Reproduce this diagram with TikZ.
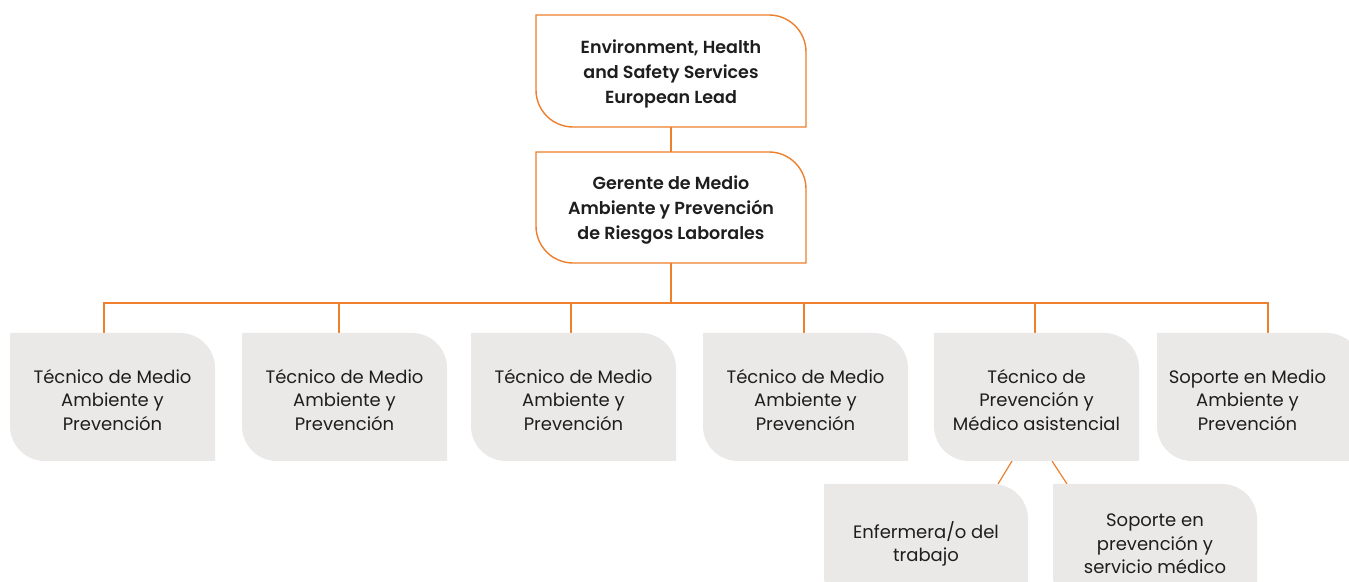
\documentclass[tikz,border=0pt]{standalone}
\usepackage{fontspec}
\setmainfont{Poppins}[BoldFont={Poppins SemiBold}]
\usetikzlibrary{calc}
\definecolor{org}{HTML}{EE7F2D}
\definecolor{gbox}{HTML}{EAE9E7}
\definecolor{txt}{HTML}{1E1E1E}
\tikzset{
  frame/.style={rectangle, draw=none, inner sep=0pt, outer sep=0pt},
  topframe/.style={frame, minimum width=270pt, minimum height=112pt},
  grayframe/.style={frame, minimum width=205pt, minimum height=128pt},
  topshape/.style={draw=org, line width=1.4pt, fill=white},
  grayshape/.style={fill=gbox, draw=none},
  toptext/.style={align=center, text=txt, yshift=-2.5pt, font=\fontsize{17.5}{25}\selectfont\bfseries},
  graytext/.style={align=center, text=txt, yshift=-3pt, font=\fontsize{18}{23.5}\selectfont},
  conn/.style={draw=org, line width=1.4pt},
}
\newcommand\orgshape[3]{%
  \path[#3] (#1.north west) -- ([xshift=-#2]#1.north east)
    arc[start angle=90,end angle=0,radius=#2] -- (#1.south east)
    -- ([xshift=#2]#1.south west)
    arc[start angle=270,end angle=180,radius=#2] -- cycle;}
\begin{document}
\begin{tikzpicture}[x=1pt,y=1pt]
\useasboundingbox (0,0) rectangle (1349,581);
\clip (0,0) rectangle (1349,581);
% frames
\node[topframe] (top) at (671,510) {};
\node[topframe, minimum height=111pt] (ger) at (671,373.5) {};
\node[grayframe] (b1) at (112.5,184) {};
\node[grayframe] (b2) at (344.5,184) {};
\node[grayframe] (b3) at (573.5,184) {};
\node[grayframe] (b4) at (805.5,184) {};
\node[grayframe] (b5) at (1036.5,184) {};
\node[grayframe] (b6) at (1259.5,184) {};
\node[grayframe, minimum width=204pt] (b7) at (926,33) {};
\node[grayframe, minimum width=204pt] (b8) at (1155,33) {};
\coordinate (bus) at (671,278);
% connectors
\draw[conn] (top.south) -- (ger.north);
\draw[conn] (ger.south) -- (bus);
\draw[conn] (bus) -| ([xshift=-8.5pt]b1.north);
\draw[conn] (bus) -| ([xshift=-5.5pt]b2.north);
\draw[conn] (bus) -| ([xshift=-2.5pt]b3.north);
\draw[conn] (bus) -| ([xshift=-1.5pt]b4.north);
\draw[conn] (bus) -| ([xshift=-1.5pt]b5.north);
\draw[conn] (bus) -| ([xshift=8.5pt]b6.north);
\draw[conn, line width=1.2pt] ([xshift=-24.5pt]b5.south) -- ([xshift=72pt]b7.north);
\draw[conn, line width=1.2pt] ([xshift=15.5pt]b5.south) -- ([xshift=-88pt]b8.north);
% shapes
\orgshape{top}{37pt}{topshape}
\orgshape{ger}{37pt}{topshape}
\foreach \b in {b1,b2,b3,b4,b5,b6,b7,b8}{\orgshape{\b}{35pt}{grayshape}}
% texts
\node[toptext] (topt) at (top) {Environment, Health\\and Safety Services\\European Lead};
\node[toptext] (gert) at (ger) {Gerente de Medio\\Ambiente y Prevención\\de Riesgos Laborales};
\node[graytext] (b1t) at (b1) {Técnico de Medio\\Ambiente y\\Prevención};
\node[graytext] (b2t) at (b2) {Técnico de Medio\\Ambiente y\\Prevención};
\node[graytext] (b3t) at (b3) {Técnico de Medio\\Ambiente y\\Prevención};
\node[graytext] (b4t) at (b4) {Técnico de Medio\\Ambiente y\\Prevención};
\node[graytext] (b5t) at (b5) {Técnico de\\Prevención y\\Médico asistencial};
\node[graytext] (b6t) at ([xshift=-12pt]b6) {Soporte en Medio\\Ambiente y\\Prevención};
\node[graytext] (b7t) at (926,40) {Enfermera/o del\\trabajo};
\node[graytext] (b8t) at (1155,40) {Soporte en\\prevención y\\servicio médico};
\end{tikzpicture}
\end{document}
